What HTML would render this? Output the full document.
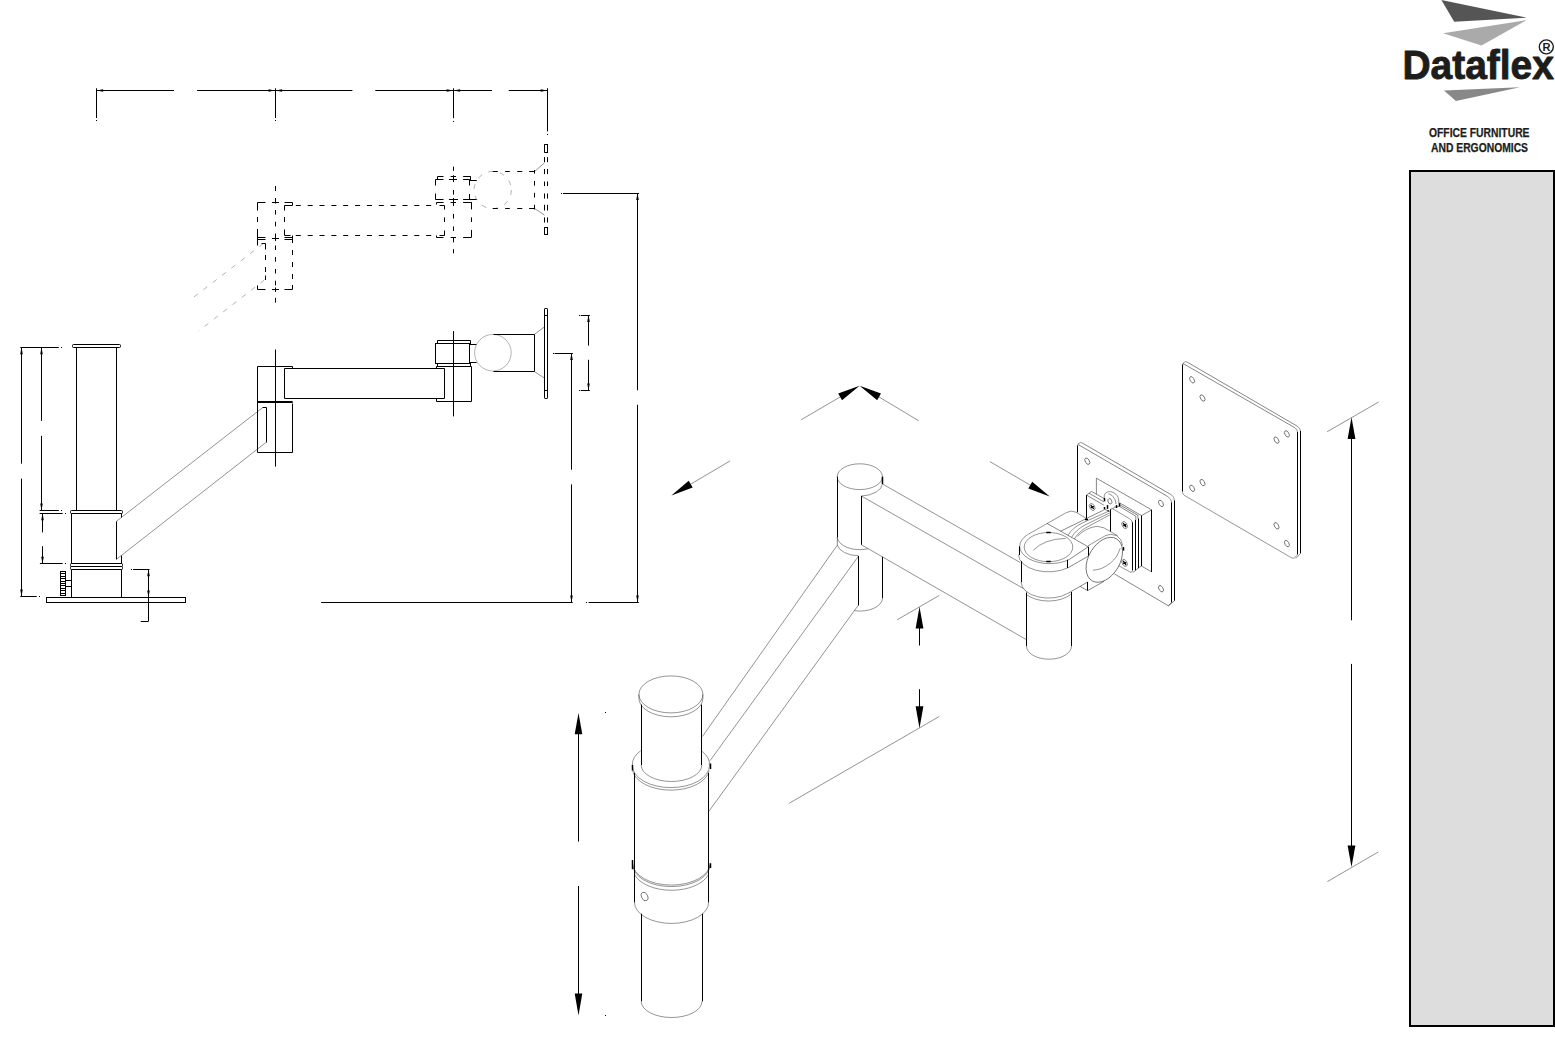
<!DOCTYPE html>
<html lang="en">
<head>
<meta charset="utf-8">
<title>Dataflex - Office Furniture and Ergonomics - technical drawing</title>
<style>
html,body{margin:0;padding:0;background:#fff;}
body{width:1555px;height:1055px;overflow:hidden;position:relative;font-family:"Liberation Sans",sans-serif;}
svg{position:absolute;left:0;top:0;display:block;}
.k{stroke:#000;stroke-width:1;fill:none;}
.h{stroke:#000;stroke-width:1.5;fill:none;}
.t{stroke:#000;stroke-width:0.48;fill:none;}
.g{stroke:#111;stroke-width:0.46;fill:none;}
.a{stroke:#000;stroke-width:0.42;fill:none;}
.gl{stroke:#777;stroke-width:0.55;fill:none;}
.d{stroke:#000;stroke-width:1;fill:none;stroke-dasharray:4 3.8;}
.c{stroke:#000;stroke-width:1;fill:none;stroke-dasharray:6.5 3.5;}
.gd{stroke:#666;stroke-width:0.5;fill:none;stroke-dasharray:5 6.8;}
.f{fill:#000;stroke:none;}
.w{fill:#fff;stroke:none;}
text{font-family:"Liberation Sans",sans-serif;font-weight:bold;fill:#1d1d1b;}
</style>
</head>
<body>
<svg width="1555" height="1055" viewBox="0 0 1555 1055">
<!-- logo -->
<polygon points="1441.4,0 1526.7,17.6 1454.2,21.8" fill="#555"/>
<polygon points="1443.1,33.3 1526.7,20.1 1481.5,45.5" fill="#aaa"/>
<polygon points="1444,90.4 1519.9,87.3 1455.9,101" fill="#888"/>
<text x="1402.4" y="78.9" font-size="41" textLength="151.5" lengthAdjust="spacingAndGlyphs" stroke="#1d1d1b" stroke-width="0.9" stroke-linejoin="round">Dataflex</text>
<circle cx="1546.3" cy="46.9" r="7" fill="none" stroke="#1d1d1b" stroke-width="1.4"/>
<text x="1542.4" y="51.2" font-size="11.5" textLength="8" lengthAdjust="spacingAndGlyphs">R</text>
<text x="1429" y="137" font-size="12" textLength="100.5" lengthAdjust="spacingAndGlyphs" stroke="#1d1d1b" stroke-width="0.25">OFFICE FURNITURE</text>
<text x="1431" y="151.8" font-size="12" textLength="97" lengthAdjust="spacingAndGlyphs" stroke="#1d1d1b" stroke-width="0.25">AND ERGONOMICS</text>
<!-- side panel -->
<rect x="1410" y="171" width="144" height="855" fill="#ddd" stroke="#000" stroke-width="2"/>
<!-- drawing -->
<!-- top dimension chain -->
<line class="k" x1="96.4" y1="90.5" x2="174" y2="90.5"/>
<line class="k" x1="197.1" y1="90.5" x2="352.4" y2="90.5"/>
<line class="k" x1="375.3" y1="90.5" x2="492" y2="90.5"/>
<line class="k" x1="508.8" y1="90.5" x2="547.4" y2="90.5"/>
<line class="k" x1="96.5" y1="88.3" x2="96.5" y2="118"/>
<rect class="f" x="96" y="120" width="1" height="1"/>
<line class="k" x1="275.5" y1="88.3" x2="275.5" y2="118"/>
<rect class="f" x="275" y="120" width="1" height="1"/>
<line class="k" x1="453.5" y1="88.3" x2="453.5" y2="118.2"/>
<rect class="f" x="453" y="121" width="1" height="1"/>
<line class="k" x1="547.5" y1="88.3" x2="547.5" y2="131.4"/>
<rect class="f" x="547" y="134" width="1" height="1"/>
<polygon class="f" points="96.4,90.5 103.2,89.2 103.2,91.8"/>
<polygon class="f" points="275.3,90.5 268.5,91.8 268.5,89.2"/>
<polygon class="f" points="275.3,90.5 282.1,89.2 282.1,91.8"/>
<polygon class="f" points="453.4,90.5 446.6,91.8 446.6,89.2"/>
<polygon class="f" points="453.4,90.5 460.2,89.2 460.2,91.8"/>
<polygon class="f" points="547.4,90.5 540.6,91.8 540.6,89.2"/>
<!-- phantom position -->
<line class="k" x1="275.5" y1="186" x2="275.5" y2="191"/>
<line class="k" x1="275.5" y1="198" x2="275.5" y2="203.5"/>
<line class="k" x1="275.5" y1="210" x2="275.5" y2="214.6"/>
<line class="k" x1="275.5" y1="221.7" x2="275.5" y2="226.4"/>
<line class="k" x1="275.5" y1="233.5" x2="275.5" y2="241"/>
<line class="k" x1="275.5" y1="245.5" x2="275.5" y2="250"/>
<line class="k" x1="275.5" y1="257" x2="275.5" y2="261.7"/>
<line class="k" x1="275.5" y1="269" x2="275.5" y2="273.5"/>
<line class="k" x1="275.5" y1="280.7" x2="275.5" y2="285.4"/>
<line class="k" x1="275.5" y1="287.5" x2="275.5" y2="292"/>
<line class="k" x1="275.5" y1="297.8" x2="275.5" y2="302.6"/>
<line class="k" x1="272" y1="202.5" x2="279" y2="202.5"/>
<line class="k" x1="272" y1="238.5" x2="279" y2="238.5"/>
<line class="k" x1="272" y1="289.5" x2="279" y2="289.5"/>
<path class="k" d="M257.5 210.5 L257.5 202.5 L265.5 202.5"/>
<line class="k" x1="257.5" y1="217" x2="257.5" y2="222"/>
<line class="k" x1="257.5" y1="229" x2="257.5" y2="245.5"/>
<path class="k" d="M284.5 202.5 L292.5 202.5 L292.5 205.5"/>
<line class="k" x1="257.3" y1="237.5" x2="265.5" y2="237.5"/>
<line class="k" x1="284.5" y1="237.5" x2="292.6" y2="237.5"/>
<line class="k" x1="257.3" y1="239.5" x2="265.5" y2="239.5"/>
<line class="k" x1="284.5" y1="239.5" x2="292.6" y2="239.5"/>
<line class="k" x1="292.5" y1="235.5" x2="292.5" y2="243"/>
<line class="k" x1="292.5" y1="250" x2="292.5" y2="255"/>
<line class="k" x1="292.5" y1="262" x2="292.5" y2="267"/>
<line class="k" x1="292.5" y1="274" x2="292.5" y2="279"/>
<line class="k" x1="292.5" y1="285" x2="292.5" y2="289.3"/>
<line class="k" x1="257.3" y1="289.5" x2="265.5" y2="289.5"/>
<line class="k" x1="284.5" y1="289.5" x2="292.6" y2="289.5"/>
<line class="k" x1="257.5" y1="285.5" x2="257.5" y2="289.3"/>
<path class="k" d="M261.5 243.5 L265.5 243.5 L265.5 249.5"/>
<line class="k" x1="265.5" y1="255" x2="265.5" y2="260"/>
<line class="k" x1="265.5" y1="267" x2="265.5" y2="272"/>
<line class="k" x1="265.5" y1="275.5" x2="265.5" y2="280"/>
<path class="k" d="M292.5 205.5 L284.5 205.5 L284.5 210.5"/>
<line class="k" x1="284.5" y1="217" x2="284.5" y2="222"/>
<path class="k" d="M284.5 229.5 L284.5 235.5 L290.5 235.5"/>
<line class="k" x1="295.8" y1="205.5" x2="300.8" y2="205.5"/>
<line class="k" x1="307.7" y1="205.5" x2="312.7" y2="205.5"/>
<line class="k" x1="319.5" y1="205.5" x2="324.5" y2="205.5"/>
<line class="k" x1="331.4" y1="205.5" x2="336.4" y2="205.5"/>
<line class="k" x1="343.2" y1="205.5" x2="348.2" y2="205.5"/>
<line class="k" x1="355.1" y1="205.5" x2="360.1" y2="205.5"/>
<line class="k" x1="366.9" y1="205.5" x2="371.9" y2="205.5"/>
<line class="k" x1="378.8" y1="205.5" x2="383.8" y2="205.5"/>
<line class="k" x1="390.6" y1="205.5" x2="395.6" y2="205.5"/>
<line class="k" x1="402.5" y1="205.5" x2="407.5" y2="205.5"/>
<line class="k" x1="414.3" y1="205.5" x2="419.3" y2="205.5"/>
<line class="k" x1="426.2" y1="205.5" x2="431.2" y2="205.5"/>
<line class="k" x1="295.8" y1="235.5" x2="300.8" y2="235.5"/>
<line class="k" x1="307.7" y1="235.5" x2="312.7" y2="235.5"/>
<line class="k" x1="319.5" y1="235.5" x2="324.5" y2="235.5"/>
<line class="k" x1="331.4" y1="235.5" x2="336.4" y2="235.5"/>
<line class="k" x1="343.2" y1="235.5" x2="348.2" y2="235.5"/>
<line class="k" x1="355.1" y1="235.5" x2="360.1" y2="235.5"/>
<line class="k" x1="366.9" y1="235.5" x2="371.9" y2="235.5"/>
<line class="k" x1="378.8" y1="235.5" x2="383.8" y2="235.5"/>
<line class="k" x1="390.6" y1="235.5" x2="395.6" y2="235.5"/>
<line class="k" x1="402.5" y1="235.5" x2="407.5" y2="235.5"/>
<line class="k" x1="414.3" y1="235.5" x2="419.3" y2="235.5"/>
<line class="k" x1="426.2" y1="235.5" x2="431.2" y2="235.5"/>
<path class="k" d="M439.5 205.5 L444.5 205.5 L444.5 209.5"/>
<line class="k" x1="444.5" y1="217.4" x2="444.5" y2="222"/>
<path class="k" d="M444.5 230.5 L444.5 235.5 L439.5 235.5"/>
<line class="k" x1="453.5" y1="166.7" x2="453.5" y2="170.8"/>
<line class="k" x1="453.5" y1="175.3" x2="453.5" y2="182.1"/>
<line class="k" x1="453.5" y1="190" x2="453.5" y2="194.6"/>
<line class="k" x1="453.5" y1="198" x2="453.5" y2="206"/>
<line class="k" x1="453.5" y1="213.9" x2="453.5" y2="218.5"/>
<line class="k" x1="453.5" y1="226.5" x2="453.5" y2="231"/>
<line class="k" x1="453.5" y1="237.5" x2="453.5" y2="242.4"/>
<line class="k" x1="453.5" y1="249.2" x2="453.5" y2="253.3"/>
<path class="k" d="M435.5 185.5 L435.5 179.5 L443.5 179.5"/>
<path class="k" d="M435.5 193.5 L435.5 199.5 L443.5 199.5"/>
<line class="k" x1="448.9" y1="179.5" x2="457" y2="179.5"/>
<line class="k" x1="463.1" y1="179.5" x2="469.6" y2="179.5"/>
<line class="k" x1="448.9" y1="199.5" x2="458" y2="199.5"/>
<line class="k" x1="463.1" y1="199.5" x2="476.8" y2="199.5"/>
<line class="k" x1="469.5" y1="179.5" x2="469.5" y2="185.5"/>
<line class="k" x1="469.5" y1="194" x2="469.5" y2="199.4"/>
<path class="k" d="M437.5 179.5 L437.5 176.5 L443.5 176.5"/>
<line class="k" x1="450.6" y1="176.5" x2="456" y2="176.5"/>
<line class="k" x1="463.1" y1="176.5" x2="470.8" y2="176.5"/>
<line class="k" x1="470.5" y1="176.6" x2="470.5" y2="181"/>
<line class="k" x1="469.6" y1="180.5" x2="476.8" y2="180.5"/>
<path class="k" d="M436.5 204.5 L436.5 202.5 L443.5 202.5"/>
<line class="k" x1="450.6" y1="202.5" x2="456" y2="202.5"/>
<line class="k" x1="463.1" y1="202.5" x2="471.4" y2="202.5"/>
<line class="k" x1="471.5" y1="202.2" x2="471.5" y2="209.4"/>
<line class="k" x1="471.5" y1="217.4" x2="471.5" y2="222"/>
<line class="k" x1="471.5" y1="229.9" x2="471.5" y2="237.5"/>
<path class="k" d="M436.5 235.5 L436.5 237.5 L443.5 237.5"/>
<line class="k" x1="450.6" y1="237.5" x2="456" y2="237.5"/>
<line class="k" x1="463.1" y1="237.5" x2="471.4" y2="237.5"/>
<circle class="gd" cx="492.7" cy="190" r="18.6"/>
<line class="k" x1="492.7" y1="171.5" x2="497.8" y2="171.5"/>
<line class="k" x1="505.2" y1="171.5" x2="509.8" y2="171.5"/>
<line class="k" x1="517.2" y1="171.5" x2="522.3" y2="171.5"/>
<line class="k" x1="529.1" y1="171.5" x2="534.8" y2="171.5"/>
<line class="k" x1="492.7" y1="208.5" x2="497.8" y2="208.5"/>
<line class="k" x1="505.2" y1="208.5" x2="509.8" y2="208.5"/>
<line class="k" x1="517.2" y1="208.5" x2="522.3" y2="208.5"/>
<line class="k" x1="529.1" y1="208.5" x2="534.8" y2="208.5"/>
<line class="k" x1="534.5" y1="170" x2="534.5" y2="173.6"/>
<line class="k" x1="534.5" y1="181" x2="534.5" y2="185.6"/>
<line class="k" x1="534.5" y1="192.9" x2="534.5" y2="197.5"/>
<line class="k" x1="534.5" y1="204.8" x2="534.5" y2="209.5"/>
<line class="g" x1="534.6" y1="171.5" x2="544.5" y2="162.8"/>
<line class="g" x1="534.6" y1="208.5" x2="544.5" y2="215.1"/>
<line class="k" x1="544.5" y1="144.6" x2="544.5" y2="152"/>
<line class="k" x1="544.5" y1="157.1" x2="544.5" y2="162.2"/>
<line class="k" x1="544.5" y1="169" x2="544.5" y2="174.1"/>
<line class="k" x1="544.5" y1="181.5" x2="544.5" y2="186.1"/>
<line class="k" x1="544.5" y1="193.5" x2="544.5" y2="198.6"/>
<line class="k" x1="544.5" y1="204.8" x2="544.5" y2="210.5"/>
<line class="k" x1="544.5" y1="217.4" x2="544.5" y2="222.5"/>
<line class="k" x1="544.5" y1="227.6" x2="544.5" y2="234.4"/>
<line class="k" x1="547.5" y1="144.6" x2="547.5" y2="152"/>
<line class="k" x1="547.5" y1="157.1" x2="547.5" y2="162.2"/>
<line class="k" x1="547.5" y1="169" x2="547.5" y2="174.1"/>
<line class="k" x1="547.5" y1="181.5" x2="547.5" y2="186.1"/>
<line class="k" x1="547.5" y1="193.5" x2="547.5" y2="198.6"/>
<line class="k" x1="547.5" y1="204.8" x2="547.5" y2="210.5"/>
<line class="k" x1="547.5" y1="217.4" x2="547.5" y2="222.5"/>
<line class="k" x1="547.5" y1="227.6" x2="547.5" y2="234.4"/>
<line class="k" x1="544.2" y1="144.5" x2="548.1" y2="144.5"/>
<line class="k" x1="544.2" y1="152.5" x2="548.1" y2="152.5"/>
<line class="k" x1="544.2" y1="227.5" x2="548.1" y2="227.5"/>
<line class="k" x1="544.2" y1="234.5" x2="548.1" y2="234.5"/>
<line class="gd" x1="263.4" y1="243.5" x2="193.3" y2="297.5"/>
<line class="gd" x1="264.4" y1="279.9" x2="198.6" y2="331"/>
<!-- right dims -->
<rect class="f" x="561" y="193" width="1" height="1"/>
<line class="k" x1="563" y1="193.5" x2="639" y2="193.5"/>
<line class="k" x1="637.5" y1="193.1" x2="637.5" y2="390.3"/>
<line class="k" x1="637.5" y1="404.8" x2="637.5" y2="602.3"/>
<polygon class="f" points="637.5,193.1 638.8,199.9 636.2,199.9"/>
<polygon class="f" points="637.5,602.3 636.2,595.5 638.8,595.5"/>
<rect class="f" x="586" y="602" width="1" height="1"/>
<line class="k" x1="588.6" y1="602.5" x2="638.8" y2="602.5"/>
<rect class="f" x="553" y="353" width="1" height="1"/>
<line class="k" x1="554.6" y1="353.5" x2="572.9" y2="353.5"/>
<line class="k" x1="571.5" y1="353.1" x2="571.5" y2="469.7"/>
<line class="k" x1="571.5" y1="484.4" x2="571.5" y2="602.3"/>
<polygon class="f" points="571.5,353.1 572.8,359.9 570.2,359.9"/>
<polygon class="f" points="571.5,602.3 570.2,595.5 572.8,595.5"/>
<line class="k" x1="321.1" y1="602.5" x2="572.7" y2="602.5"/>
<rect class="f" x="579" y="315" width="1" height="1"/>
<line class="k" x1="580.7" y1="315.5" x2="589.9" y2="315.5"/>
<rect class="f" x="579" y="390" width="1" height="1"/>
<line class="k" x1="580.7" y1="390.5" x2="589.9" y2="390.5"/>
<line class="k" x1="588.5" y1="315.1" x2="588.5" y2="345.6"/>
<line class="k" x1="588.5" y1="359.8" x2="588.5" y2="390.3"/>
<polygon class="f" points="588.5,315.1 589.8,321.9 587.2,321.9"/>
<polygon class="f" points="588.5,390.3 587.2,383.5 589.8,383.5"/>
<!-- solid side view -->
<rect class="k" x="72.5" y="344.5" width="48" height="3" rx="1"/>
<line class="k" x1="76.5" y1="347.6" x2="76.5" y2="510.6"/>
<line class="k" x1="116.5" y1="347.6" x2="116.5" y2="510.6"/>
<rect class="k" x="70.5" y="510.5" width="52" height="3" rx="1"/>
<line class="k" x1="71.5" y1="513.4" x2="71.5" y2="563.6"/>
<line class="k" x1="121.5" y1="513.4" x2="121.5" y2="517.6"/>
<line class="k" x1="121.5" y1="555.6" x2="121.5" y2="563.6"/>
<rect class="k" x="70.5" y="563.5" width="52" height="3" rx="1"/>
<rect class="k" x="70.5" y="566.5" width="52" height="3" rx="1"/>
<line class="k" x1="71.5" y1="569.4" x2="71.5" y2="597.4"/>
<line class="k" x1="121.5" y1="569.4" x2="121.5" y2="597.4"/>
<rect class="k" x="46.5" y="597.5" width="139" height="5"/>
<rect class="k" x="60.5" y="571.5" width="5" height="24"/>
<line class="k" x1="60.4" y1="573.5" x2="65.6" y2="573.5"/>
<line class="k" x1="60.4" y1="576.5" x2="65.6" y2="576.5"/>
<line class="k" x1="60.4" y1="578.5" x2="65.6" y2="578.5"/>
<line class="k" x1="60.4" y1="581.5" x2="65.6" y2="581.5"/>
<line class="k" x1="60.4" y1="583.5" x2="65.6" y2="583.5"/>
<line class="k" x1="60.4" y1="585.5" x2="65.6" y2="585.5"/>
<line class="k" x1="60.4" y1="588.5" x2="65.6" y2="588.5"/>
<line class="k" x1="60.4" y1="590.5" x2="65.6" y2="590.5"/>
<line class="k" x1="60.4" y1="593.5" x2="65.6" y2="593.5"/>
<line class="k" x1="65.6" y1="580.5" x2="71.6" y2="580.5"/>
<line class="k" x1="65.6" y1="586.5" x2="71.6" y2="586.5"/>
<line class="k" x1="116.5" y1="521.4" x2="116.5" y2="559.4"/>
<line class="g" x1="116.3" y1="521.4" x2="262.4" y2="407.8"/>
<line class="g" x1="116.3" y1="559.4" x2="265.9" y2="442.5"/>
<line class="k" x1="275.5" y1="349.5" x2="275.5" y2="466.6"/>
<path class="k" d="M257.5 452.5 L257.5 366.5 L292.5 366.5 L292.5 368.5"/>
<line class="k" x1="257.6" y1="401.5" x2="292.7" y2="401.5"/>
<line class="k" x1="257.6" y1="402.5" x2="292.7" y2="402.5"/>
<path class="k" d="M292.5 403.5 L292.5 452.5 L257.5 452.5"/>
<path class="k" d="M262.5 407.5 L266.5 407.5 L266.5 442.5"/>
<path class="k" d="M444.5 368.5 L284.5 368.5 L284.5 398.5 L444.5 398.5 L444.5 368.5"/>
<line class="k" x1="453.5" y1="331.1" x2="453.5" y2="416.4"/>
<rect class="k" x="435.5" y="343.5" width="34" height="20"/>
<path class="k" d="M437.5 343.5 L437.5 340.5 L470.5 340.5 L470.5 344.5"/>
<line class="k" x1="469.7" y1="344.5" x2="476.6" y2="344.5"/>
<line class="k" x1="469.7" y1="362.5" x2="476.6" y2="362.5"/>
<path class="k" d="M437.5 363.5 L437.5 366.5"/>
<path class="k" d="M436.5 368.5 L436.5 366.5 L471.5 366.5 L471.5 401.5 L436.5 401.5 L436.5 398.5"/>
<line class="k" x1="470.5" y1="362.4" x2="470.5" y2="366.2"/>
<circle class="gl" cx="492.9" cy="352.7" r="18.3"/>
<path class="k" d="M493.5 334.5 L534.5 334.5 L534.5 371.5 L493.5 371.5"/>
<line class="g" x1="534.4" y1="334.4" x2="544" y2="327.2"/>
<line class="g" x1="534.4" y1="371.6" x2="544" y2="377.8"/>
<rect class="k" x="544.5" y="308.5" width="3" height="90" rx="0.6"/>
<line class="k" x1="544.4" y1="315.5" x2="547.7" y2="315.5"/>
<line class="k" x1="544.4" y1="390.5" x2="547.7" y2="390.5"/>
<!-- left dims -->
<line class="k" x1="20.3" y1="347.5" x2="58.8" y2="347.5"/>
<rect class="f" x="61" y="347" width="1" height="1"/>
<line class="k" x1="21.5" y1="347.4" x2="21.5" y2="463.7"/>
<line class="k" x1="21.5" y1="478.6" x2="21.5" y2="596.4"/>
<polygon class="f" points="21.5,347.4 22.8,354.2 20.2,354.2"/>
<polygon class="f" points="21.5,596.4 20.2,589.6 22.8,589.6"/>
<line class="k" x1="20.3" y1="596.5" x2="36.7" y2="596.5"/>
<rect class="f" x="39" y="596" width="1" height="1"/>
<line class="k" x1="41.5" y1="347.4" x2="41.5" y2="420.9"/>
<line class="k" x1="41.5" y1="435.8" x2="41.5" y2="510.4"/>
<polygon class="f" points="41.5,347.4 42.8,354.2 40.2,354.2"/>
<polygon class="f" points="41.5,510.4 40.2,503.6 42.8,503.6"/>
<line class="k" x1="39.6" y1="510.5" x2="58.8" y2="510.5"/>
<rect class="f" x="61" y="510" width="1" height="1"/>
<line class="k" x1="39.6" y1="513.5" x2="62.7" y2="513.5"/>
<rect class="f" x="65" y="513" width="1" height="1"/>
<line class="k" x1="42.5" y1="513.4" x2="42.5" y2="532.4"/>
<line class="k" x1="42.5" y1="546.2" x2="42.5" y2="563.5"/>
<polygon class="f" points="42.5,513.4 43.8,520.2 41.2,520.2"/>
<polygon class="f" points="42.5,563.5 41.2,556.7 43.8,556.7"/>
<line class="k" x1="39.9" y1="563.5" x2="62.7" y2="563.5"/>
<rect class="f" x="65" y="563" width="1" height="1"/>
<rect class="f" x="131" y="569" width="1" height="1"/>
<line class="k" x1="133.1" y1="569.5" x2="149.5" y2="569.5"/>
<line class="k" x1="148.5" y1="569.4" x2="148.5" y2="621.1"/>
<line class="k" x1="140.8" y1="621.5" x2="148.6" y2="621.5"/>
<polygon class="f" points="148.5,569.4 149.8,576.2 147.2,576.2"/>
<polygon class="f" points="148.5,597.4 147.2,590.6 149.8,590.6"/>
<!-- iso dims -->
<polygon class="f" points="671.4,495.6 688.7,480.7 692.7,487.4"/>
<line class="g" x1="688.6" y1="485.4" x2="730.1" y2="460.9"/>
<polygon class="f" points="859.6,385.7 842,400.3 838.2,393.5"/>
<line class="g" x1="842.3" y1="395.7" x2="801.1" y2="419.8"/>
<polygon class="f" points="859.6,385.7 881,393.5 877.2,400.3"/>
<line class="g" x1="876.9" y1="395.7" x2="918.8" y2="420.8"/>
<polygon class="f" points="1049.7,496.5 1028.3,488.5 1032.2,481.8"/>
<line class="g" x1="1032.4" y1="486.4" x2="989.9" y2="461.6"/>
<line class="g" x1="897.1" y1="619.8" x2="939.2" y2="595.5"/>
<line class="g" x1="789.1" y1="803.3" x2="939.2" y2="716.5"/>
<line class="k" x1="919.5" y1="620" x2="919.5" y2="645.5"/>
<line class="k" x1="919.5" y1="689.2" x2="919.5" y2="715"/>
<polygon class="f" points="919.5,606.8 923.4,628.4 915.6,628.4"/>
<polygon class="f" points="919.5,728.3 915.6,706.3 923.4,706.3"/>
<line class="k" x1="578.5" y1="725" x2="578.5" y2="841.6"/>
<line class="k" x1="578.5" y1="886" x2="578.5" y2="1000"/>
<polygon class="f" points="578.5,712.9 582.3,734.3 574.7,734.3"/>
<polygon class="f" points="578.5,1015.6 574.7,993.6 582.3,993.6"/>
<rect class="f" x="605" y="712" width="1" height="1"/>
<rect class="f" x="605" y="1015" width="1" height="1"/>
<line class="g" x1="1327.2" y1="431.7" x2="1378.8" y2="401.9"/>
<line class="g" x1="1327.4" y1="881.6" x2="1378.4" y2="851.9"/>
<line class="k" x1="1351.5" y1="430" x2="1351.5" y2="620.3"/>
<line class="k" x1="1351.5" y1="663.9" x2="1351.5" y2="855"/>
<polygon class="f" points="1351.5,417.3 1355.4,439 1347.6,439"/>
<polygon class="f" points="1351.5,867.1 1347.6,845.5 1355.4,845.5"/>
<!-- iso pole -->
<ellipse class="a" cx="670.9" cy="694.4" rx="32" ry="18.5"/>
<path class="a" d="M638.9 694.4 L638.9 698.3 A32 18.5 0 0 0 702.9 698.3 L702.9 694.4"/>
<line class="k" x1="641.5" y1="704.6" x2="641.5" y2="765"/>
<line class="k" x1="701.5" y1="704.6" x2="701.5" y2="765"/>
<path class="a" d="M641.2 765 A30.3 16.5 0 0 0 701.8 765"/>
<path class="a" d="M640.8 750.6 A38.6 22.2 0 0 0 632.4 765.4"/>
<path class="a" d="M709.5 765.4 A38.6 22.2 0 0 0 702.2 751.4"/>
<path class="a" d="M632.3 765.4 A38.6 22.2 0 0 0 709.5 765.4"/>
<path class="a" d="M632.6 770.7 A38.6 22.2 0 0 0 709.2 770.7"/>
<line class="h" x1="632.5" y1="765" x2="632.5" y2="770.5"/>
<line class="h" x1="710.5" y1="763.5" x2="710.5" y2="769"/>
<line class="k" x1="634.5" y1="773" x2="634.5" y2="902.4"/>
<line class="k" x1="708.5" y1="773" x2="708.5" y2="902.4"/>
<path class="a" d="M632.6 862.9 A38.8 22.2 0 0 0 710.2 862.9"/>
<path class="a" d="M632.6 864.4 A38.8 22.2 0 0 0 710.2 864.4"/>
<path class="a" d="M634.5 874.4 A38.6 22.2 0 0 0 708.6 874.2"/>
<line class="h" x1="632.5" y1="860" x2="632.5" y2="869.2"/>
<line class="h" x1="710.5" y1="863.3" x2="710.5" y2="868"/>
<path class="a" d="M634.5 902.4 A37 21 0 0 0 708.6 902.4"/>
<ellipse class="t" cx="644.6" cy="896.5" rx="3" ry="4.5" transform="rotate(-25 644.6 896.5)"/>
<line class="k" x1="641.5" y1="913.7" x2="641.5" y2="1001.3"/>
<line class="k" x1="702.5" y1="913.7" x2="702.5" y2="1001.3"/>
<path class="a" d="M641.2 1001.3 A30.4 16.2 0 0 0 702 1001.3"/>
<!-- iso lower arm -->
<line class="g" x1="837.3" y1="545.2" x2="702.4" y2="736.5"/>
<line class="g" x1="858.1" y1="556.7" x2="710.1" y2="760.6"/>
<line class="g" x1="858.1" y1="605.5" x2="708.9" y2="811.3"/>
<!-- iso elbow -->
<ellipse class="a" cx="859.8" cy="476.7" rx="22.6" ry="12.9"/>
<line class="k" x1="837.5" y1="476.7" x2="837.5" y2="537"/>
<line class="t" x1="837.3" y1="537" x2="837.3" y2="545.2"/>
<line class="h" x1="882.5" y1="476.7" x2="882.5" y2="484"/>
<path class="a" d="M882.5 484 A22.6 13 0 0 1 861.4 496"/>
<line class="k" x1="861.5" y1="496" x2="861.5" y2="544.8"/>
<path class="a" d="M837.3 537 A22.5 12.9 0 0 0 868 548.8"/>
<path class="a" d="M837.3 545.2 A22.5 12.9 0 0 0 858.1 555.8"/>
<line class="k" x1="858.5" y1="555.8" x2="858.5" y2="605.5"/>
<line class="k" x1="882.5" y1="556.8" x2="882.5" y2="598.2"/>
<path class="a" d="M882.5 598.2 A22.6 13 0 0 1 854.6 610.7"/>
<!-- iso upper arm -->
<line class="g" x1="882.5" y1="484" x2="1020.2" y2="562.5"/>
<line class="g" x1="861.4" y1="496" x2="1023.5" y2="588.6"/>
<line class="g" x1="861.4" y1="544.8" x2="1026.3" y2="639.6"/>
<!-- VESA adaptor plate (exploded) -->
<line class="k" x1="1182.5" y1="364.5" x2="1182.5" y2="491.3"/>
<path class="a" d="M1182.5 366 Q1182.5 362.4 1185.5 361.5 L1187.5 362.3"/>
<line class="t" x1="1183.2" y1="363.6" x2="1294.5" y2="427.5"/>
<line class="t" x1="1187.5" y1="362.3" x2="1297.3" y2="426.2"/>
<path class="a" d="M1294.5 427.5 Q1297.6 429.2 1297.6 432.5"/>
<path class="a" d="M1297.3 426.2 Q1300.6 428 1300.6 431.8"/>
<line class="k" x1="1297.5" y1="432" x2="1297.5" y2="554.5"/>
<line class="k" x1="1300.5" y1="431" x2="1300.5" y2="553.3"/>
<path class="a" d="M1182.3 491 Q1182.3 494.5 1185 495.8 L1291.5 557.8 Q1294.5 559.5 1297.6 554.5"/>
<path class="a" d="M1300.6 553.3 L1296 558.3"/>
<ellipse class="t" cx="1192.1" cy="379.8" rx="2" ry="3.5" transform="rotate(-30 1192.1 379.8)"/>
<ellipse class="t" cx="1202.5" cy="398" rx="2" ry="3.5" transform="rotate(-30 1202.5 398)"/>
<ellipse class="t" cx="1286.9" cy="433.9" rx="2" ry="3.5" transform="rotate(-30 1286.9 433.9)"/>
<ellipse class="t" cx="1276.5" cy="440.1" rx="2" ry="3.5" transform="rotate(-30 1276.5 440.1)"/>
<ellipse class="t" cx="1192.1" cy="488.3" rx="2" ry="3.5" transform="rotate(-30 1192.1 488.3)"/>
<ellipse class="t" cx="1202.5" cy="482.6" rx="2" ry="3.5" transform="rotate(-30 1202.5 482.6)"/>
<ellipse class="t" cx="1276.5" cy="525.8" rx="2" ry="3.5" transform="rotate(-30 1276.5 525.8)"/>
<ellipse class="t" cx="1286.9" cy="543.6" rx="2" ry="3.5" transform="rotate(-30 1286.9 543.6)"/>
<!-- mounting plate -->
<line class="k" x1="1077.5" y1="445.5" x2="1077.5" y2="512.3"/>
<path class="a" d="M1077.4 446.5 Q1077.4 443 1080.6 442.5 L1082.5 443.1"/>
<line class="t" x1="1078.3" y1="444.6" x2="1167.5" y2="496.4"/>
<line class="t" x1="1082.5" y1="443.1" x2="1171.5" y2="494.9"/>
<path class="a" d="M1167.5 496.4 Q1171.8 498.8 1171.8 503"/>
<path class="a" d="M1171.5 494.9 Q1174.4 496.6 1174.4 501"/>
<line class="k" x1="1171.5" y1="502.5" x2="1171.5" y2="602.4"/>
<line class="k" x1="1174.5" y1="500.5" x2="1174.5" y2="600.7"/>
<path class="t" d="M1171.8 602.4 L1168.4 605.8 L1174.4 600.7"/>
<line class="t" x1="1168.4" y1="605.8" x2="1114.4" y2="573.9"/>
<ellipse class="t" cx="1087.3" cy="461.2" rx="2" ry="3.5" transform="rotate(-30 1087.3 461.2)"/>
<ellipse class="t" cx="1161" cy="503.4" rx="2" ry="3.5" transform="rotate(-30 1161 503.4)"/>
<ellipse class="t" cx="1161" cy="588.7" rx="2" ry="3.5" transform="rotate(-30 1161 588.7)"/>
<!-- inner square plate + stack -->
<path class="t" d="M1096.4 492.8 L1096.4 478.2 L1151.7 509.9"/>
<line class="k" x1="1151.5" y1="509.9" x2="1151.5" y2="571.9"/>
<line class="t" x1="1151.7" y1="509.9" x2="1141.4" y2="515.6"/>
<line class="k" x1="1141.5" y1="515.6" x2="1141.5" y2="566"/>
<line class="t" x1="1151.7" y1="571.9" x2="1141.4" y2="566"/>
<line class="t" x1="1141.4" y1="566" x2="1138.3" y2="567.8"/>
<line class="k" x1="1138.5" y1="518.5" x2="1138.5" y2="568.3"/>
<line class="k" x1="1135.5" y1="520" x2="1135.5" y2="570.3"/>
<line class="k" x1="1132.5" y1="522.3" x2="1132.5" y2="570.5"/>
<line class="t" x1="1119.5" y1="502.8" x2="1141.4" y2="515.6"/>
<line class="t" x1="1119.5" y1="504.6" x2="1137.9" y2="515.3"/>
<line class="t" x1="1119.5" y1="506.4" x2="1135.8" y2="516.2"/>
<path class="t" d="M1137.9 515.3 L1137.9 518.5 M1135.8 516.2 L1135.8 520"/>
<path class="a" d="M1132.3 570.5 Q1132.3 572.8 1130.3 572.2 L1118.9 565.8"/>
<path class="t" d="M1135.8 570.3 L1132.8 572.4 M1137.9 568.3 L1135.8 570.3"/>
<!-- bracket -->
<line class="k" x1="1110.5" y1="509.3" x2="1110.5" y2="531.5"/>
<path class="a" d="M1110.4 510.5 Q1110.6 508 1112.6 508.7 L1129.7 518.8 Q1132.3 520.3 1132.3 522.8"/>
<path class="t" d="M1112.6 508.7 L1115 507 L1119.5 506.4"/>
<line class="k" x1="1086.5" y1="495.1" x2="1086.5" y2="518.6"/>
<path class="t" d="M1086.5 495.1 L1091.6 491.4 L1104.1 498.6"/>
<line class="t" x1="1086.5" y1="495.1" x2="1103.8" y2="505.1"/>
<line class="t" x1="1089" y1="493.2" x2="1104" y2="501.9"/>
<line class="t" x1="1096.4" y1="492.8" x2="1096.4" y2="494.2"/>
<path class="a" d="M1104.3 498.5 L1104.3 495.6 Q1104.8 492 1109.4 491.6 Q1114.6 491.8 1117.6 496.2 Q1118.9 498.3 1118.9 503.5"/>
<path class="a" d="M1108.4 493.7 Q1112.6 494.5 1115 499.5 L1116.1 504"/>
<ellipse class="t" cx="1109.9" cy="501.3" rx="1.9" ry="2.8" transform="rotate(-20 1109.9 501.3)"/>
<line class="h" x1="1104.5" y1="498" x2="1104.5" y2="501.3"/>
<line class="h" x1="1104.5" y1="507" x2="1104.5" y2="509.4"/>
<line class="h" x1="1107.5" y1="505.1" x2="1107.5" y2="508.9"/>
<line class="h" x1="1119.5" y1="503.2" x2="1119.5" y2="506.5"/>
<line class="h" x1="1116.5" y1="505.1" x2="1116.5" y2="508"/>
<line class="t" x1="1104.4" y1="509.4" x2="1110.4" y2="511.5"/>
<circle class="f" cx="1108.2" cy="511" r="0.8"/>
<ellipse class="g" cx="1092.2" cy="507" rx="2.4" ry="3.7" transform="rotate(-30 1092.2 507)"/>
<path d="M1090.7 505.1 L1093.7 508.9 M1090.8 507.9 L1093.8 506.3" stroke="#000" stroke-width="1.3" fill="none"/>
<ellipse class="g" cx="1124.6" cy="525.1" rx="2.4" ry="3.7" transform="rotate(-30 1124.6 525.1)"/>
<path d="M1123.1 523.2 L1126.1 527 M1123.2 526 L1126.2 524.4" stroke="#000" stroke-width="1.3" fill="none"/>
<ellipse class="g" cx="1124.6" cy="562.9" rx="2.4" ry="3.7" transform="rotate(-30 1124.6 562.9)"/>
<path d="M1123.1 561 L1126.1 564.8 M1123.2 563.8 L1126.2 562.2" stroke="#000" stroke-width="1.3" fill="none"/>
<!-- tilt joint -->
<path class="a" d="M1077.6 536.2 Q1086 527.5 1097.2 526.3 Q1104 526.8 1110.4 531.5 L1117.7 535.8"/>
<ellipse class="t" cx="1104.3" cy="559.8" rx="24.3" ry="15.7" transform="rotate(-60 1104.3 559.8)"/>
<path class="a" d="M1087.9 545.9 L1105.5 535.6 Q1110.6 533.1 1116.7 535.6 Q1121.6 538.6 1122.7 545.5"/>
<path class="a" d="M1120.2 548.3 Q1118.5 553 1116.7 556.2 Q1114 560.2 1110.2 563.3 Q1106 566.5 1101.4 568.5 Q1097 570 1092.9 570.3"/>
<line class="h" x1="1123.5" y1="547.1" x2="1123.5" y2="550.6"/>
<line class="t" x1="1060.7" y1="531.2" x2="1103.8" y2="510"/>
<path class="a" d="M1068 535.4 Q1072.5 527.5 1083 522.6 L1107.8 511.6"/>
<path class="a" d="M1071.6 537.3 Q1076 529.5 1086 524.5 L1109.8 512.8"/>
<path class="a" d="M1074.3 539 Q1079 531 1089 526 L1110.4 514.6"/>
<line class="h" x1="1085" y1="519.5" x2="1088" y2="519.5"/>
<line class="k" x1="1088.5" y1="546.8" x2="1088.5" y2="555.7"/>
<line class="k" x1="1087.5" y1="582" x2="1087.5" y2="590.6"/>
<line class="t" x1="1087.7" y1="590.6" x2="1104.1" y2="581.3"/>
<line class="t" x1="1080.2" y1="586.5" x2="1087.7" y2="590.6"/>
<!-- head clamp -->
<ellipse class="a" cx="1048.5" cy="547.1" rx="24.3" ry="14.6"/>
<line class="h" x1="1046.3" y1="532.5" x2="1050.7" y2="532.5"/>
<line class="h" x1="1046.3" y1="561.5" x2="1050.7" y2="561.5"/>
<path class="a" d="M1033.3 550.3 Q1044 539 1065.7 538.4"/>
<path class="a" d="M1069.7 559.2 A30 17.3 0 0 1 1027.3 534.8"/>
<path class="a" d="M1027.3 534.8 L1066.5 512.5 Q1071.6 509.8 1076.2 512.3 L1086.5 518.6"/>
<line class="t" x1="1047" y1="523.4" x2="1088.2" y2="546.8"/>
<line class="t" x1="1069.7" y1="559.2" x2="1088.2" y2="546.8"/>
<line class="k" x1="1067.5" y1="559.8" x2="1067.5" y2="568"/>
<line class="t" x1="1067.6" y1="568" x2="1088.2" y2="556.2"/>
<line class="k" x1="1019.5" y1="546.3" x2="1019.5" y2="555"/>
<path class="a" d="M1067.8 567.8 A30 17.3 0 0 1 1018.5 554.5"/>
<line class="k" x1="1021.5" y1="561.1" x2="1021.5" y2="582.2"/>
<path class="a" d="M1067.9 593.4 A27.4 15.9 0 0 1 1021.1 582.2"/>
<line class="t" x1="1067.9" y1="593.4" x2="1087.7" y2="582"/>
<path class="a" d="M1070.9 594.3 A27.4 15.9 0 0 1 1026.1 594.3"/>
<line class="k" x1="1026.5" y1="592.5" x2="1026.5" y2="646"/>
<line class="k" x1="1071.5" y1="592" x2="1071.5" y2="646"/>
<path class="a" d="M1026.5 646 A22.5 13.2 0 0 0 1071.5 646"/>
</svg>
</body>
</html>
